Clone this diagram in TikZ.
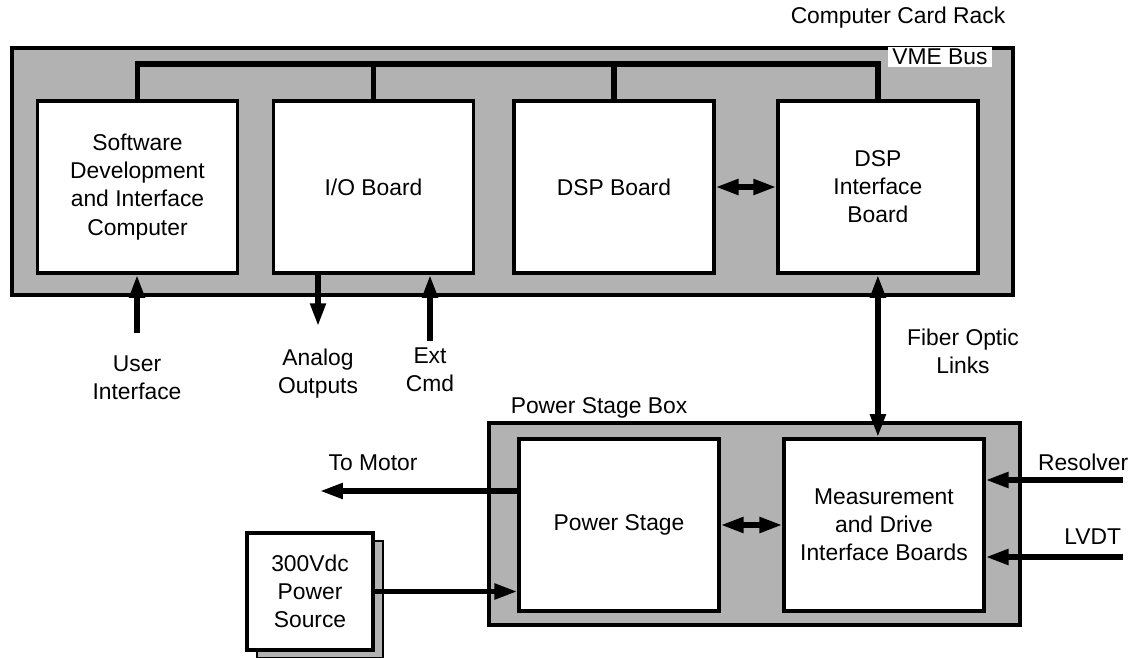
\documentclass[tikz,border=0pt]{standalone}
\usepackage{fontspec}
\setmainfont{Liberation Sans}
\usetikzlibrary{arrows.meta,positioning}

\begin{document}
\begin{tikzpicture}[
		x=0.02cm, y=-0.02cm,
		>={Triangle[length=13pt,width=8.5pt]},
		font=\fontsize{13}{16}\selectfont,
		shaded/.style={
			draw,
			line width=2pt,
			fill=black!30
		},
		board/.style={
			draw,
			line width=2pt,
			fill=white,
			align=center,
			minimum width=4cm,
			minimum height=3.45cm
		},
		txt/.style={
			align=center,
			inner sep=2pt
		},
		wire/.style={
			line width=3pt
		}
		]
		
		\useasboundingbox (0,0) rectangle (1135,658);
		
		% Card rack
		\node[shaded, minimum width=20.02cm, minimum height=4.94cm] (rack) at (512.5,171.5) {};
		\node[txt] (racktitle) at (898,18) {Computer Card Rack};
		
		% Boards in the rack
		\node[board] (sw) at (137.5,187)
		{Software\\Development\\and Interface\\Computer};
		
		\node[board, right=0.65cm of sw] (io) {I/O Board};
		
		\node[board, right=0.74cm of io] (dsp) {DSP Board};
		
		\node[board, right=1.21cm of dsp] (dspif)
		{DSP\\Interface\\Board};
		
		% VME bus
		\coordinate (bus) at (0,64);
		\draw[wire] (sw.north) |- (bus -| dspif.north) -- (dspif.north);
		\draw[wire] (io.north) -- (io.north |- bus);
		\draw[wire] (dsp.north) -- (dsp.north |- bus);
		\node[fill=white, inner xsep=2.5pt, inner ysep=1pt] (vme) at (940,57) {VME Bus};
		
		% Rack inputs and outputs
		\node[txt] (user) at (137,378) {User\\Interface};
		\node[txt] (analog) at (318,374) {Analog\\Outputs};
		\node[txt] (extcmd) at (430,370) {Ext\\Cmd};
		\node[txt] (fiber) at (963,351) {Fiber Optic\\Links};
		
		% Power stage box
		\node[shaded, minimum width=10.62cm, minimum height=4.04cm] (psbox) at (754.5,524) {};
		\node[txt] (psboxtitle) at (599,408) {Power Stage Box};
		
		\node[board] (ps) at (619,525) {Power Stage};
		
		\node[board, right=1.23cm of ps] (meas)
		{Measurement\\and Drive\\Interface Boards};
		
		% Power source
		\node[shaded, line width=1pt, minimum width=2.52cm, minimum height=2.34cm] (srcshadow) at (320,599.5) {};
		\node[board, minimum width=2.52cm, minimum height=2.34cm] (src) at (310,591.5)
		{300Vdc\\Power\\Source};
		
		% Outside signals
		\node[txt] (motor) at (373,463) {To Motor};
		\coordinate (motorout) at (320,491);
		\node[txt, anchor=east] (resolver) at (1132,462) {Resolver};
		\coordinate (resolverin) at (1123,480);
		\node[txt, anchor=east] (lvdt) at (1125,537) {LVDT};
		\coordinate (lvdtin) at (1123,557);
		
		% Connections
		\draw[wire, <->] (dsp) -- (dspif);
		\draw[wire, ->, shorten <=11pt] (user) -- (user |- sw.south);
		\draw[wire, ->, shorten >=11pt] (io.south -| analog) -- (analog);
		\draw[wire, ->, shorten <=2pt] (extcmd) -- (extcmd |- io.south);
		\draw[wire, <->] (dspif.south) -- (dspif.south |- meas.north);
		
		\draw[wire, <->] (ps) -- (meas);
		\draw[wire, ->] (ps.west |- motorout) -- (motorout);
		\draw[wire, ->] (src) -- (ps.west |- src);
		\draw[wire, ->] (resolverin) -- (meas.east |- resolverin);
		\draw[wire, ->] (lvdtin) -- (meas.east |- lvdtin);
		
	\end{tikzpicture}
\end{document}
